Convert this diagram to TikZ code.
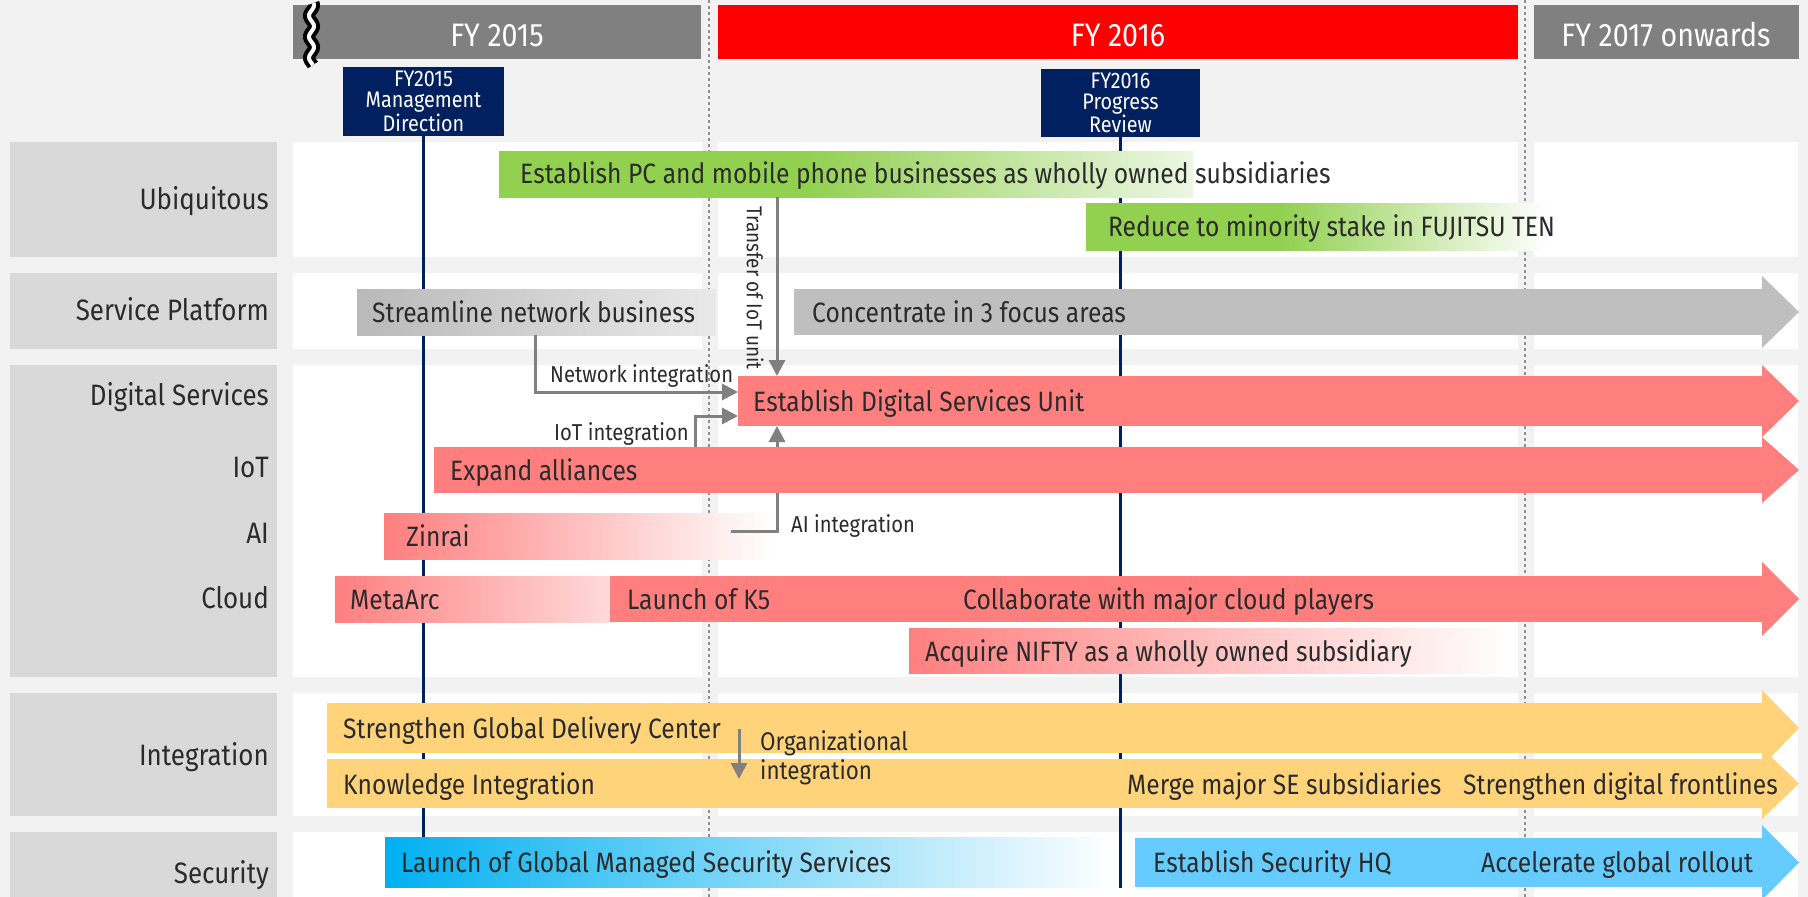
\documentclass[tikz,border=0pt]{standalone}
\usepackage{fontspec}
\setmainfont{Fira Sans}[FakeStretch=0.88]
\usetikzlibrary{arrows.meta}
\definecolor{bg}{HTML}{F2F2F2}
\definecolor{lblgray}{HTML}{D9D9D9}
\definecolor{hdrgray}{HTML}{808080}
\definecolor{hdrred}{HTML}{FF0000}
\definecolor{navy}{HTML}{00205F}
\definecolor{dotc}{HTML}{909090}
\definecolor{connc}{HTML}{808080}
\definecolor{grn}{HTML}{92D050}
\definecolor{grnend}{RGB}{236,247,228}
\definecolor{salmon}{HTML}{FF7F7F}
\definecolor{pinkend}{RGB}{255,218,218}
\definecolor{yel}{HTML}{FFD37A}
\definecolor{lblue}{HTML}{66CCFF}
\definecolor{cyanb}{HTML}{00B0F0}
\definecolor{garrow}{HTML}{BFBFBF}
\definecolor{txt}{HTML}{2B2B2B}
\pgfdeclarehorizontalshading{pcfade}{100bp}{color(0bp)=(grn); color(25bp)=(grn); color(47bp)=(grn); color(75bp)=(grnend); color(100bp)=(grnend)}
\pgfdeclarehorizontalshading{tenfade}{100bp}{color(0bp)=(grn); color(25bp)=(grn); color(46bp)=(grn); color(75bp)=(white); color(100bp)=(white)}
\newcommand{\ahead}[3]{\fill[#3] ([yshift=#2pt]#1.north east) -- ([xshift=37pt]#1.east) -- ([yshift=-#2pt]#1.south east) -- cycle;}
\begin{document}
\begin{tikzpicture}[x=1pt,y=-1pt,
  bar/.style={inner sep=0pt, outer sep=0pt, anchor=north west, draw=none},
  bt/.style={anchor=base west, inner sep=0pt, text=txt, font=\fontsize{28}{32}\selectfont},
  lbl/.style={anchor=base east, inner sep=0pt, text=txt, font=\fontsize{29.5}{33}\selectfont},
  hdrtxt/.style={anchor=base, inner sep=0pt, text=white, font=\fontsize{32.5}{36}\selectfont},
  small/.style={anchor=base west, inner sep=0pt, text=txt, font=\fontsize{23}{26}\selectfont},
  orgtxt/.style={anchor=base west, inner sep=0pt, text=txt, font=\fontsize{25.5}{28}\selectfont},
  navybox/.style={fill=navy, text=white, align=center, inner sep=0pt, font=\fontsize{22.5}{21}\selectfont},
  navyline/.style={draw=navy, line width=3.5pt},
  dotline/.style={draw=dotc, line width=2pt, dash pattern=on 3pt off 3pt},
  conn/.style={draw=connc, line width=3pt, line join=miter, -{Triangle[length=16pt,width=16pt]}}]
\useasboundingbox (0,0) rectangle (1808,897);
\fill[bg] (0,0) rectangle (1808,897);
% headers
\node[bar, fill=hdrgray, minimum width=408, minimum height=54] (h15) at (293,5) {};
\node[bar, fill=hdrred, minimum width=800, minimum height=54] (h16) at (718,5) {};
\node[bar, fill=hdrgray, minimum width=265, minimum height=54] (h17) at (1534,5) {};
\node[hdrtxt] (t15) at (497,46) {FY 2015};
\node[hdrtxt] (t16) at (1118,46) {FY 2016};
\node[hdrtxt] (t17) at (1666,46) {FY 2017 onwards};
% break symbol
\draw[black, line width=12pt] plot[domain=3:65, samples=70, smooth] ({311.5+2.5*sin(\x*17.1429)},{\x});
\draw[white, line width=4pt] plot[domain=3:65, samples=70, smooth] ({311.5+2.5*sin(\x*17.1429)},{\x});
% panels and label boxes
\foreach \ya/\yb in {142/257, 273/349, 365/677, 693/816, 832/900} {
  \fill[white] (293,\ya) rectangle (702,\yb);
  \fill[white] (718,\ya) rectangle (1518,\yb);
  \fill[white] (1534,\ya) rectangle (1798,\yb);
  \fill[lblgray] (10,\ya) rectangle (277,\yb);
}
\node[lbl] (lubq) at (269,209) {Ubiquitous};
\node[lbl] (lsp) at (269,320) {Service Platform};
\node[lbl] (lds) at (269,405) {Digital Services};
\node[lbl] (liot) at (269,477) {IoT};
\node[lbl] (lai) at (269,543) {AI};
\node[lbl] (lcl) at (269,608) {Cloud};
\node[lbl] (lint) at (269,765) {Integration};
\node[lbl] (lsec) at (269,883) {Security};
% dotted period lines
\draw[dotline] (709,0) -- (709,897);
\draw[dotline] (1525,0) -- (1525,897);
% navy milestone boxes and lines
\node[navybox, minimum width=161, minimum height=69] (m15) at (423.5,101.5) {FY2015\\Management\\Direction};
\node[navybox, minimum width=159, minimum height=68] (m16) at (1120.5,103) {FY2016\\Progress\\Review};
\coordinate (lbot) at (0,888);
\draw[navyline] (m15.south) -- (m15.south |- lbot);
\draw[navyline] (m16.south) -- (m16.south |- lbot);
% bars
\node[bar, shading=pcfade, minimum width=694, minimum height=46] (pc) at (499,151) {};
\node[bar, shading=tenfade, minimum width=462, minimum height=47] (reduce) at (1086,203) {};
\node[bar, left color={rgb,255:red,185;green,185;blue,185}, right color={rgb,255:red,233;green,233;blue,233}, minimum width=359, minimum height=46] (stream) at (357,289) {};
\node[bar, fill=garrow, minimum width=968, minimum height=46] (conc) at (794,289) {};
\ahead{conc}{13}{garrow}
\node[bar, fill=salmon, minimum width=1024, minimum height=50] (ds) at (738,376) {};
\ahead{ds}{11}{salmon}
\node[bar, left color=salmon, right color=white, minimum width=389, minimum height=46] (zinrai) at (384,513) {};
% connectors
\coordinate (tx) at (777,0);
\draw[conn] (tx |- pc.south) -- (tx |- ds.north);
\coordinate (nw) at (535,392);
\draw[conn] (nw |- stream.south) -- (nw) -- (nw -| ds.west);
\coordinate (ais) at (731,531);
\coordinate (aic) at (777,531);
\draw[conn] (ais) -- (aic) -- (aic |- ds.south);
\node[bar, fill=salmon, minimum width=1328, minimum height=46] (expand) at (434,447) {};
\ahead{expand}{10}{salmon}
\coordinate (io) at (695,416);
\draw[conn] (io |- expand.north) -- (io) -- (io -| ds.west);
\node[bar, left color=salmon, right color=pinkend, minimum width=275, minimum height=46] (meta) at (335,576) {};
\node[bar, fill=salmon, minimum width=1152, minimum height=46] (k5) at (610,576) {};
\ahead{k5}{14}{salmon}
\node[bar, left color=salmon, right color=white, minimum width=602, minimum height=45] (nifty) at (909,628) {};
\node[bar, fill=yel, minimum width=1435, minimum height=50] (gdc) at (327,703) {};
\ahead{gdc}{13}{yel}
\node[bar, fill=yel, minimum width=1435, minimum height=49] (know) at (327,759) {};
\ahead{know}{11}{yel}
\node[bar, left color=cyanb, right color=white, minimum width=730, minimum height=50] (gmss) at (385,837) {};
\node[bar, fill=lblue, minimum width=627, minimum height=49] (sechq) at (1135,838) {};
\ahead{sechq}{13}{lblue}
\coordinate (og) at (739,729);
\coordinate (oge) at (739,779);
\draw[conn] (og) -- (oge);
% bar texts
\node[bt] (tpc) at (520,183) {Establish PC and mobile phone businesses as wholly owned subsidiaries};
\node[bt] (tten) at (1108,236) {Reduce to minority stake in FUJITSU TEN};
\node[bt] (tstr) at (372,322) {Streamline network business};
\node[bt] (tconc) at (812,322) {Concentrate in 3 focus areas};
\node[bt] (tds) at (753,411) {Establish Digital Services Unit};
\node[bt] (texp) at (450,480) {Expand alliances};
\node[bt] (tzin) at (406,546) {Zinrai};
\node[bt] (tmeta) at (350,609) {MetaArc};
\node[bt] (tk5) at (627,609) {Launch of K5};
\node[bt] (tcol) at (963,609) {Collaborate with major cloud players};
\node[bt] (tnif) at (925,661) {Acquire NIFTY as a wholly owned subsidiary};
\node[bt] (tgdc) at (343,738) {Strengthen Global Delivery Center};
\node[bt] (tkn) at (343,794) {Knowledge Integration};
\node[bt] (tmerge) at (1127,794) {Merge major SE subsidiaries};
\node[bt] (tfront) at (1463,794) {Strengthen digital frontlines};
\node[bt] (tgmss) at (401,872) {Launch of Global Managed Security Services};
\node[bt] (tshq) at (1153,872) {Establish Security HQ};
\node[bt] (tacc) at (1481,872) {Accelerate global rollout};
% connector labels
\node[small] (lnw) at (550,382) {Network integration};
\node[small] (liotc) at (554,440) {IoT integration};
\node[small] (laic) at (791,532) {AI integration};
\node[orgtxt] (lorg1) at (760,750) {Organizational};
\node[orgtxt] (lorg2) at (760,779) {integration};
\node[small, font=\fontsize{21.5}{24}\selectfont, rotate=-90, anchor=center] (ltr) at (755,288) {Transfer of IoT unit};
\end{tikzpicture}
\end{document}
